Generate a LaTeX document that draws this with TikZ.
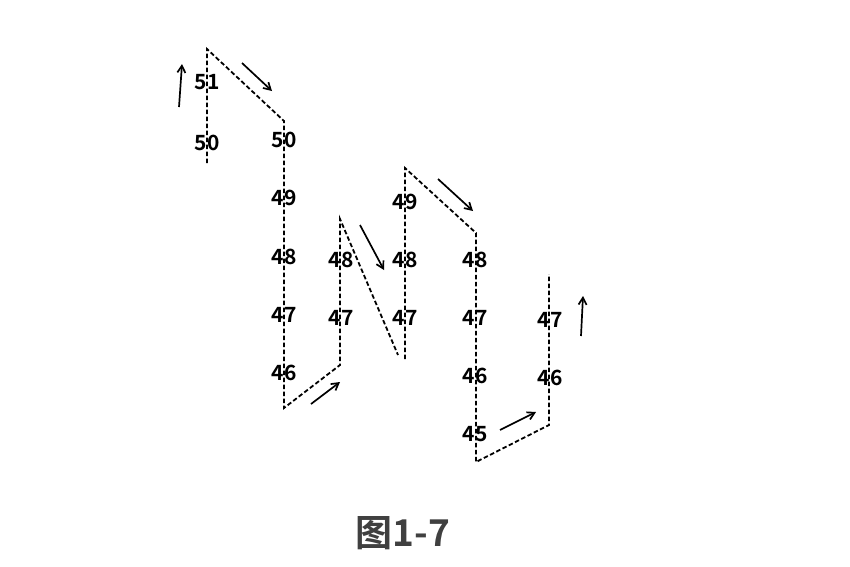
\documentclass[tikz,border=0pt]{standalone}
\usepackage{fontspec}
\setmainfont{Noto Sans CJK SC}
\newfontfamily\cjkbold{Noto Sans CJK SC Bold}
\usetikzlibrary{arrows.meta}
\begin{document}
\begin{tikzpicture}[x=1pt,y=-1pt,
  dline/.style={line width=1.8pt,dash pattern=on 4.5pt off 2.5pt},
  arr/.style={line width=1.7pt,-{Straight Barb[length=7pt,width=8pt]}},
  num/.style={font=\cjkbold\fontsize{21}{21}\selectfont, inner sep=0pt}]
\useasboundingbox (0,0) rectangle (850,566);
% labels
\node[num] (l51) at (207,82) {51};
\node[num] (l50a) at (207,143) {50};
\node[num] (l50b) at (284,140) {50};
\node[num] (l49a) at (284,198) {49};
\node[num] (l48a) at (284,257) {48};
\node[num] (l47a) at (284,315) {47};
\node[num] (l46a) at (284,373) {46};
\node[num] (l48b) at (341,260) {48};
\node[num] (l47b) at (341,318) {47};
\node[num] (l49c) at (405,202) {49};
\node[num] (l48c) at (405,260) {48};
\node[num] (l47c) at (405,318) {47};
\node[num] (l48d) at (475,260) {48};
\node[num] (l47d) at (475,318) {47};
\node[num] (l46d) at (475,376) {46};
\node[num] (l45d) at (475,434) {45};
\node[num] (l47e) at (550,320) {47};
\node[num] (l46e) at (550,378) {46};
% path coordinates
\coordinate (p0) at (207,163);
\coordinate (p1) at (207,49);
\coordinate (p2) at (284,121);
\coordinate (p3) at (284,408);
\coordinate (p4) at (340,365);
\coordinate (p5) at (340,219);
\coordinate (p6) at (398,355);
\coordinate (q0) at (405,359);
\coordinate (q1) at (405,168);
\coordinate (q2) at (476,233);
\coordinate (q3) at (476,462);
\coordinate (q4) at (549,425);
\coordinate (q5) at (549,274);
\draw[dline] (p0) -- (p1) -- (p2) -- (p3) -- (p4) -- (p5) -- (p6);
\draw[dline] (q0) -- (q1) -- (q2) -- (q3) -- (q4) -- (q5);
% arrows
\coordinate (a1s) at (179,107); \coordinate (a1e) at (182,64);
\coordinate (a2s) at (242,63); \coordinate (a2e) at (272,91);
\coordinate (a3s) at (311,404); \coordinate (a3e) at (340,382);
\coordinate (a4s) at (360,225); \coordinate (a4e) at (384,270);
\coordinate (a5s) at (438,179); \coordinate (a5e) at (473,211);
\coordinate (a6s) at (500,430); \coordinate (a6e) at (536,412);
\coordinate (a7s) at (581,336); \coordinate (a7e) at (583,296);
\draw[arr] (a1s) -- (a1e);
\draw[arr] (a2s) -- (a2e);
\draw[arr] (a3s) -- (a3e);
\draw[arr] (a4s) -- (a4e);
\draw[arr] (a5s) -- (a5e);
\draw[arr] (a6s) -- (a6e);
\draw[arr] (a7s) -- (a7e);
% caption
\node[font=\cjkbold\fontsize{37}{37}\selectfont, text={rgb,255:red,64;green,64;blue,64}, inner sep=0pt] (cap) at (403,533) {图1-7};
\end{tikzpicture}
\end{document}
